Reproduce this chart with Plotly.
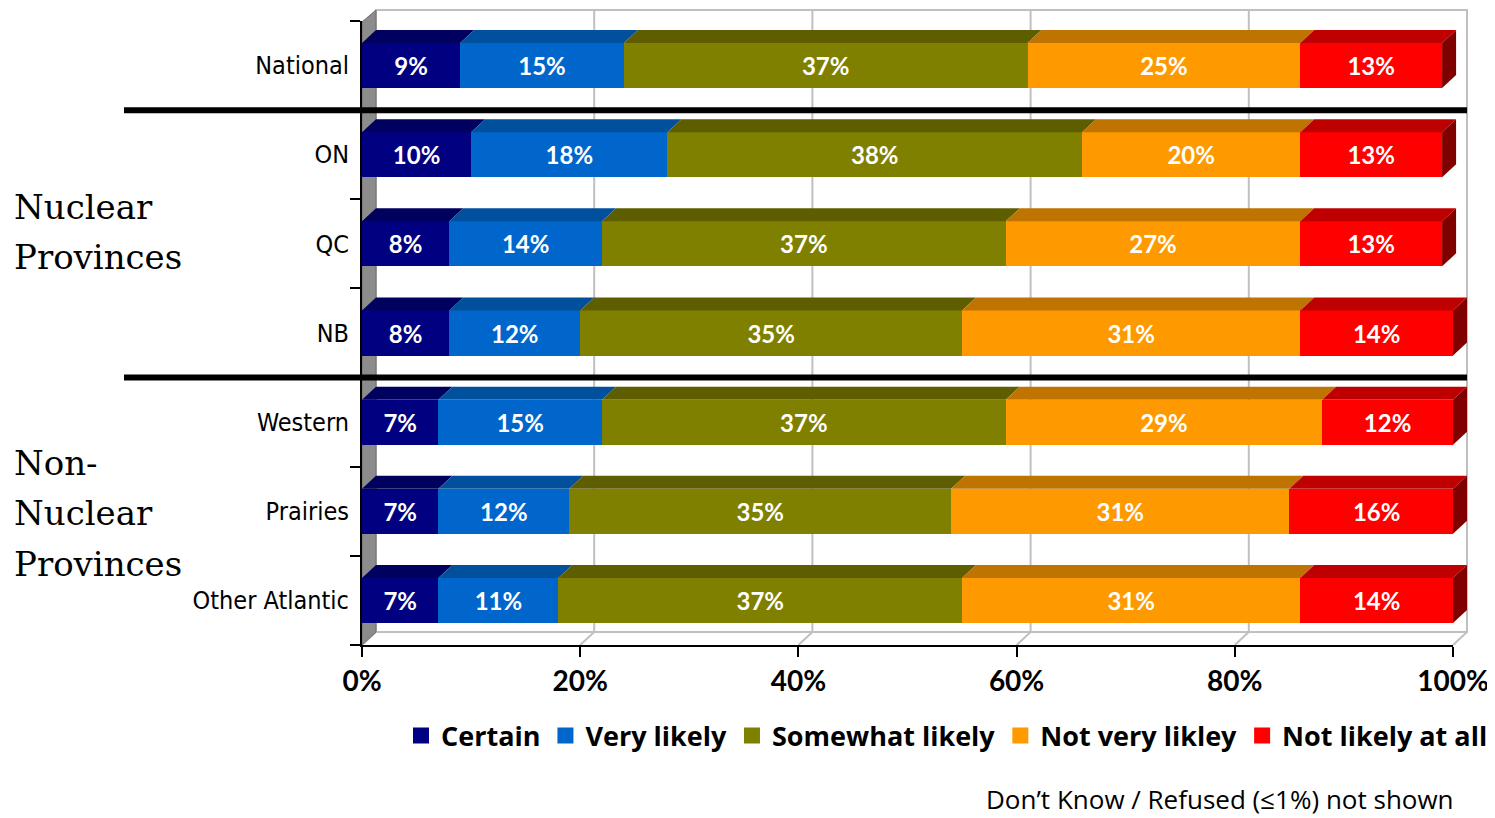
import plotly.graph_objects as go

categories = ["National", "ON", "QC", "NB", "Western", "Prairies", "Other Atlantic"]
series_names = ["Certain", "Very likely", "Somewhat likely", "Not very likley", "Not likely at all"]
certain = [9, 10, 8, 8, 7, 7, 7]
very_likely = [15, 18, 14, 12, 15, 12, 11]
somewhat_likely = [37, 38, 37, 35, 37, 35, 37]
not_very_likely = [25, 20, 27, 31, 29, 31, 31]
not_likely_at_all = [13, 13, 13, 14, 12, 16, 14]
x_ticks = [0, 20, 40, 60, 80, 100]
x_tick_labels = ["0%", "20%", "40%", "60%", "80%", "100%"]
footnote = "Don’t Know / Refused (≤1%) not shown"

colors = ["#000080", "#0066CC", "#808000", "#FF9900", "#FF0000"]
top_colors = ["#00005E", "#00509E", "#5E5E00", "#BF7300", "#BF0000"]
side_color = "#800000"
values = [certain, very_likely, somewhat_likely, not_very_likely, not_likely_at_all]
ypos = list(range(len(categories)))

# page has an 8px body margin: the figure is shifted by 8px
OFF = 8
W, H = 1495 - OFF, 818 - OFF
L, R, T, B = 362 - OFF, 2, 21 - OFF, 173
P = W - L - R               # paper width in px
ph = H - T - B
PLOT_W = 1453 - 362         # x axis length in px
D = PLOT_W / P              # x axis domain end in paper units

def px(xr):
    return (xr - 362) / P

def py(yr):
    return (645 - yr) / ph

def dx(v):
    return min(v, 100) / 100 * D

BAR_W = 0.505
DXP = 14 / P                          # depth offset in paper x
DY = 13 / (ph / len(categories))      # depth offset in category units

fig = go.Figure()
for name, vals, col in zip(series_names, values, colors):
    fig.add_trace(go.Bar(
        y=ypos, x=vals, name=name, orientation="h", width=BAR_W,
        marker=dict(color=col, line=dict(width=0)),
        text=[f"{v}%" for v in vals], textposition="inside",
        insidetextanchor="middle", constraintext="none",
        textfont=dict(color="white", size=24, family="Lato", weight="bold"),
        hoverinfo="skip", showlegend=False,
    ))
# legend entries
for name, col in zip(series_names, colors):
    fig.add_trace(go.Scatter(
        x=[None], y=[None], mode="markers", name=name,
        marker=dict(symbol="square", size=18, color=col), hoverinfo="skip",
    ))

shapes = []
# back wall outline
shapes.append(dict(type="rect", xref="paper", yref="paper",
                   x0=DXP, x1=D + DXP, y0=py(632), y1=py(10),
                   line=dict(color="#C0C0C0", width=2), fillcolor="rgba(0,0,0,0)", layer="below"))
# gridlines on back wall + floor diagonals
for v in x_ticks:
    xp = dx(v)
    if 0 < v < 100:
        shapes.append(dict(type="line", xref="paper", yref="paper",
                           x0=xp + DXP, x1=xp + DXP, y0=py(632), y1=py(10),
                           line=dict(color="#C0C0C0", width=2), layer="below"))
    shapes.append(dict(type="line", xref="paper", yref="paper",
                       x0=xp, x1=xp + DXP, y0=0, y1=py(632),
                       line=dict(color="#C0C0C0", width=2), layer="below"))
# left side wall
shapes.append(dict(type="path", xref="paper", yref="paper",
                   path=f"M 0,0 L {DXP},{py(632)} L {DXP},{py(10)} L 0,{py(22)} Z",
                   fillcolor="#8C8C8C", line=dict(color="#6E6E6E", width=1), layer="below"))

# 3D top faces and right side face of the bars
for i in range(len(categories)):
    cum = 0
    top = ypos[i] - BAR_W / 2
    for j, vals in enumerate(values):
        x0 = dx(cum)
        cum += vals[i]
        x1 = dx(cum)
        shapes.append(dict(type="path", xref="paper", yref="y",
                           path=f"M {x0},{top} L {x1},{top} L {x1 + DXP},{top - DY} L {x0 + DXP},{top - DY} Z",
                           fillcolor=top_colors[j], line=dict(width=0)))
    xe = dx(cum)
    bot = ypos[i] + BAR_W / 2
    shapes.append(dict(type="path", xref="paper", yref="y",
                       path=f"M {xe},{top} L {xe + DXP},{top - DY} L {xe + DXP},{bot - DY} L {xe},{bot} Z",
                       fillcolor=side_color, line=dict(width=0)))

# separators between groups
for yv in [0.5, 3.5]:
    shapes.append(dict(type="line", xref="paper", yref="y",
                       x0=px(124), x1=D + DXP, y0=yv, y1=yv,
                       line=dict(color="black", width=6)))

group_lines = [("Nuclear", 207), ("Provinces", 257),
               ("Non-", 463), ("Nuclear", 513), ("Provinces", 564)]
annotations = [
    dict(text=t, xref="paper", yref="paper", x=px(12), y=py(yy),
         xanchor="left", yanchor="middle", showarrow=False, align="left",
         font=dict(family="DejaVu Serif", size=34, color="black"))
    for t, yy in group_lines
]
annotations.append(
    dict(text=footnote, xref="paper", yref="paper",
         x=px(1456), y=py(799), xanchor="right", yanchor="middle", showarrow=False,
         font=dict(family="Open Sans", size=26, color="black")))

fig.update_layout(
    width=W, height=H,
    margin=dict(l=L, r=R, t=T, b=B, pad=0, autoexpand=False),
    barmode="stack",
    plot_bgcolor="white", paper_bgcolor="white",
    showlegend=True,
    legend=dict(orientation="h", x=px(1493), xanchor="right", y=py(736), yanchor="middle",
                font=dict(family="Open Sans", size=27, color="black", weight="bold"),
                itemsizing="trace", traceorder="normal", itemwidth=30,
                bgcolor="rgba(0,0,0,0)"),
    xaxis=dict(range=[0, 100], domain=[0, D], tickvals=x_ticks, ticktext=x_tick_labels,
               showgrid=False, automargin=False,
               showline=True, linecolor="black", linewidth=2,
               ticks="outside", ticklen=10, tickwidth=2, tickcolor="black",
               tickfont=dict(family="Lato", size=28, color="black", weight="bold"),
               zeroline=False, fixedrange=True),
    yaxis=dict(range=[len(categories) - 0.5, -0.5], automargin=False,
               tickvals=ypos, ticktext=categories,
               showline=True, linecolor="black", linewidth=2,
               ticks="", ticklabelstandoff=6,
               minor=dict(ticks="outside", tick0=-0.5, dtick=1, ticklen=10,
                          tickwidth=2, tickcolor="black", showgrid=False),
               tickfont=dict(family="DejaVu Sans Condensed, DejaVu Sans", size=25,
                             color="black"),
               showgrid=False, zeroline=False, fixedrange=True),
    shapes=shapes, annotations=annotations,
)

fig.write_html("out.html")
